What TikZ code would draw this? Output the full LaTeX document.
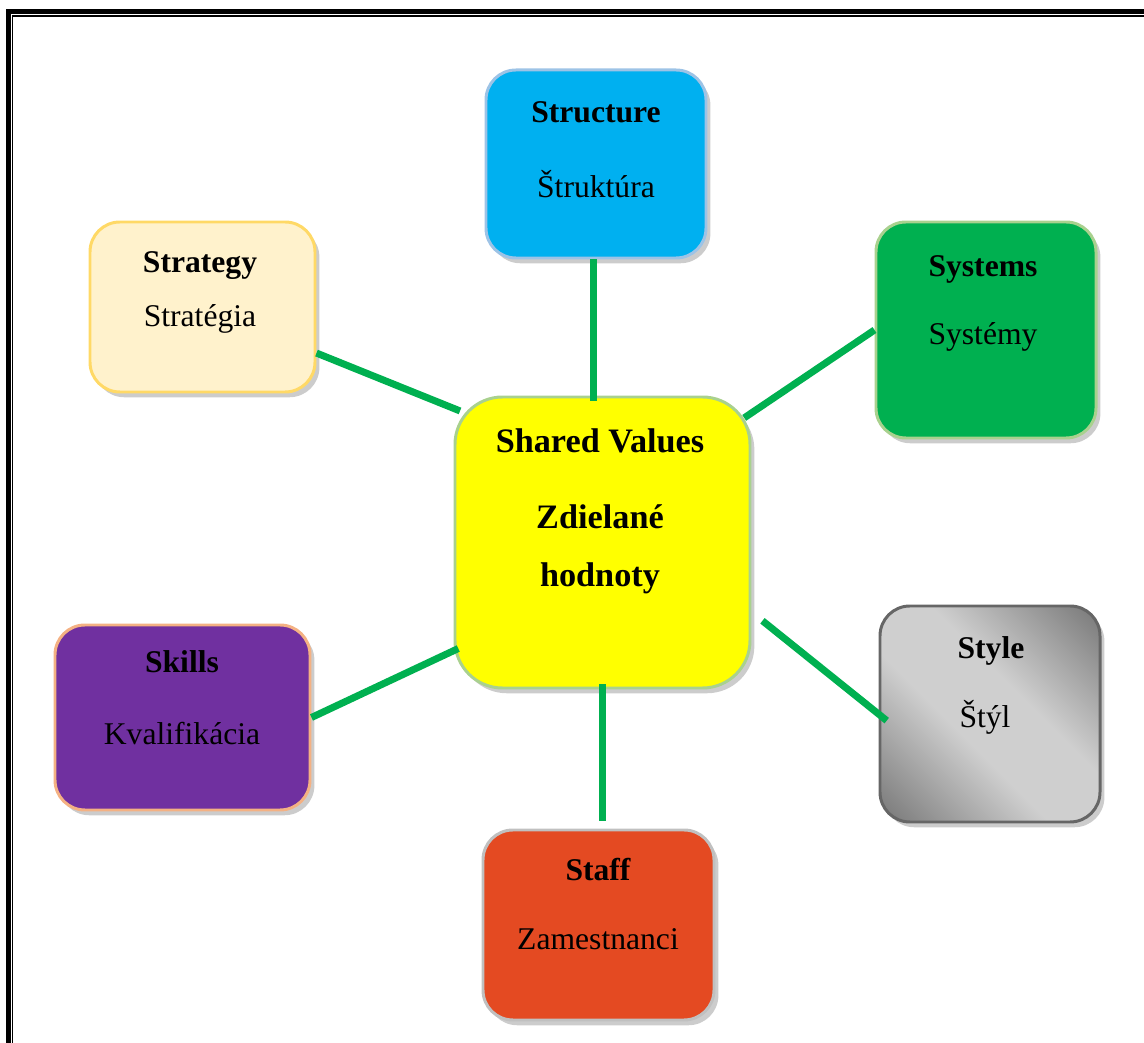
\documentclass[tikz,border=0pt]{standalone}
\usepackage{fontspec}
\setmainfont{Liberation Serif}
\usetikzlibrary{positioning}
\usetikzlibrary{shapes,backgrounds,fit,shadows}

\definecolor{linkgreen}{HTML}{00B050}
\definecolor{structfill}{HTML}{00B0F0}
\definecolor{structline}{HTML}{9DC3E6}
\definecolor{stratfill}{HTML}{FFF2CC}
\definecolor{stratline}{HTML}{FFD966}
\definecolor{sysfill}{HTML}{00B050}
\definecolor{sysline}{HTML}{A9D18E}
\definecolor{valfill}{HTML}{FFFF00}
\definecolor{valline}{HTML}{A9D18E}
\definecolor{skillfill}{HTML}{7030A0}
\definecolor{skillline}{HTML}{F4B183}
\definecolor{styledark}{HTML}{6E6E6E}
\definecolor{stylelight}{HTML}{CFCFCF}
\definecolor{styleline}{HTML}{666666}
\definecolor{stafffill}{HTML}{E44A22}
\definecolor{staffline}{HTML}{C0C0C0}

\pgfdeclareverticalshading{steel}{100bp}{color(0bp)=(styledark); color(12bp)=(styledark);
  color(42bp)=(stylelight); color(58bp)=(stylelight); color(88bp)=(styledark); color(100bp)=(styledark)}

\begin{document}
\begin{tikzpicture}[x=0.02cm,y=-0.02cm,
  box/.style={line width=1.7pt, rounded corners=17pt, inner sep=0pt,
    drop shadow={shadow xshift=2.5pt, shadow yshift=-3pt, opacity=0.4}},
  head/.style={font=\fontsize{18}{21}\selectfont\bfseries, inner sep=0pt, anchor=base},
  body/.style={font=\fontsize{18}{21}\selectfont, inner sep=0pt, anchor=base},
  link/.style={draw=linkgreen, line width=4pt}]
\useasboundingbox (0,0) rectangle (1144,1043);
\draw[line width=2.9pt] (8.5,1043) |- (1144,11.5);
\draw[line width=0.7pt] (12.8,1043) |- (1144,16);

\node[box, fill=structfill, draw=structline, fit={(486,70) (706,258)}] (structure) {};
\node[box, fill=stratfill, draw=stratline, fit={(90,222) (315,392)}] (strategy) {};
\node[box, fill=sysfill, draw=sysline, fit={(876,222) (1096,438)}] (systems) {};
\node[box, fill=valfill, draw=valline, rounded corners=27pt, fit={(455,397) (750,688)}] (values) {};
\node[box, fill=skillfill, draw=skillline, fit={(55,625) (310,810)}] (skills) {};
\node[box, draw=styleline, shading=steel, shading angle=-45, fit={(880,606) (1100,822)}] (style) {};
\node[box, fill=stafffill, draw=staffline, fit={(483,830) (714,1020)}] (staff) {};

\node[head] (structurehead) at (596,123) {Structure};
\node[body] (structurebody) at (596,198) {Štruktúra};
\node[head] (strategyhead) at (200,273) {Strategy};
\node[body] (strategybody) at (200,327) {Stratégia};
\node[head] (systemshead) at (983,277) {Systems};
\node[body] (systemsbody) at (983,345) {Systémy};
\node[head, font=\fontsize{19.5}{23}\selectfont\bfseries] (valueshead) at (600,453) {Shared Values};
\node[head, font=\fontsize{19.5}{23}\selectfont\bfseries] (valuesbody) at (600,529) {Zdielané};
\node[head, font=\fontsize{19.5}{23}\selectfont\bfseries] (valuesbodyb) at (600,587) {hodnoty};
\node[head] (skillshead) at (182,673) {Skills};
\node[body] (skillsbody) at (182,745) {Kvalifikácia};
\node[head] (stylehead) at (991,659) {Style};
\node[body] (stylebody) at (985,728) {Štýl};
\node[head] (staffhead) at (598,881) {Staff};
\node[body] (staffbody) at (598,950) {Zamestnanci};

\draw[link] ([xshift=-1.7pt]structure.south) -- ([xshift=-1.7pt,yshift=-3pt]structure.south |- values.north);
\draw[link, shorten >=-4pt] (strategy.-22) -- (values.138);
\draw[link, shorten >=-5pt] (systems.west) -- (values.41);
\draw[link, shorten >=-3pt] (skills.east) -- (values.216);
\draw[link, shorten <=8pt, shorten >=-6pt] (values.-25) -- (style.west);
\draw[link, shorten >=4pt] ([yshift=3pt]values.south) -- (values.south |- staff.north);
\end{tikzpicture}
\end{document}
